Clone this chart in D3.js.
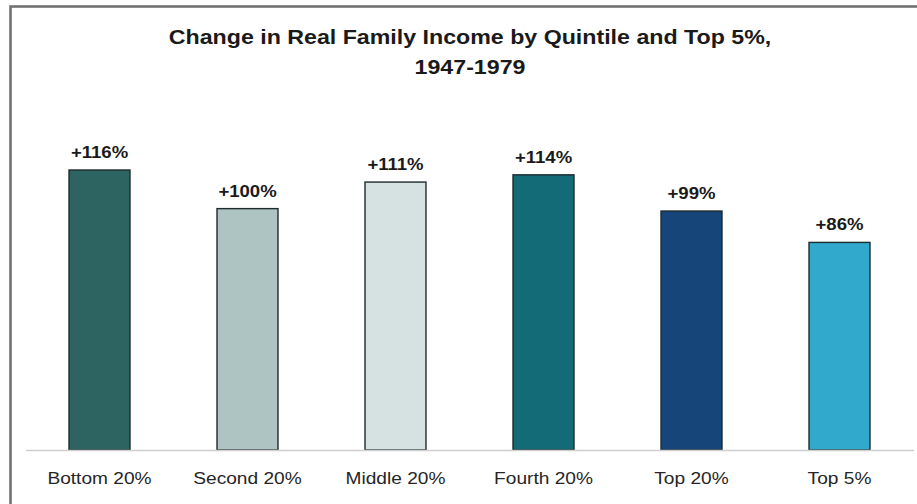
<!DOCTYPE html>
<html>
<head>
<meta charset="utf-8">
<script src="https://cdn.jsdelivr.net/npm/d3@7"></script>
<style>
  html, body { margin: 0; padding: 0; background: #fff; }
  svg { display: block; }
  text { font-family: "Liberation Sans", Arial, Helvetica, sans-serif; }
</style>
</head>
<body>
<svg id="chart" width="917" height="504"></svg>
<script>
const titleLines = ["Change in Real Family Income by Quintile and Top 5%,", "1947-1979"];
const categories = ["Bottom 20%", "Second 20%", "Middle 20%", "Fourth 20%", "Top 20%", "Top 5%"];
const values = [116, 100, 111, 114, 99, 86];
const valueLabels = ["+116%", "+100%", "+111%", "+114%", "+99%", "+86%"];
const barColors = ["#2d6461", "#adc4c3", "#d6e1e2", "#136b78", "#16457a", "#31a9cd"];

const W = 917, H = 504;
const svg = d3.select("#chart");
const stretch = 1.16;

// outer frame
svg.append("rect")
  .attr("x", 10.5).attr("y", 6.5)
  .attr("width", W + 20).attr("height", H + 20)
  .attr("fill", "none")
  .attr("stroke", "#727272")
  .attr("stroke-width", 2.6);

const baseY = 450;
const x = d3.scaleBand()
  .domain(categories)
  .range([25.5, 913.5])
  .paddingInner(0.588)
  .paddingOuter(0.294);

const y = d3.scaleLinear()
  .domain([0, 116])
  .range([baseY, 170]);

// title
svg.append("g").selectAll("text")
  .data(titleLines)
  .join("text")
  .attr("transform", (d, i) => `translate(470,${i === 0 ? 44 : 73.5}) scale(${stretch},1)`)
  .attr("text-anchor", "middle")
  .attr("font-size", 20)
  .attr("font-weight", "bold")
  .attr("fill", "#1a1a1a")
  .text(d => d);

// bars
const data = categories.map((c, i) => ({ c, v: values[i], lab: valueLabels[i], col: barColors[i] }));

svg.append("g").selectAll("rect")
  .data(data)
  .join("rect")
  .attr("x", d => x(d.c))
  .attr("y", d => y(d.v))
  .attr("width", x.bandwidth())
  .attr("height", d => baseY - y(d.v))
  .attr("fill", d => d.col)
  .attr("stroke", "#1e2b2c")
  .attr("stroke-width", 1.4);

// baseline axis
const axis = d3.axisBottom(x).tickSize(0).tickPadding(0);
const axG = svg.append("g").attr("transform", `translate(0,${baseY})`).call(axis);
axG.select(".domain").attr("stroke", "#cfcfcf").attr("stroke-width", 1.6);
axG.selectAll(".tick text")
  .attr("y", 0).attr("dy", null)
  .attr("transform", `translate(0,34) scale(${stretch},1)`)
  .attr("font-family", "'Liberation Sans', Arial, sans-serif")
  .attr("font-size", 16.5)
  .attr("fill", "#262626");

// value labels
svg.append("g").selectAll("text")
  .data(data)
  .join("text")
  .attr("transform", d => `translate(${x(d.c) + x.bandwidth() / 2},${y(d.v) - 12}) scale(${stretch},1)`)
  .attr("text-anchor", "middle")
  .attr("font-size", 16)
  .attr("font-weight", "bold")
  .attr("fill", "#1a1a1a")
  .text(d => d.lab);
</script>
</body>
</html>
